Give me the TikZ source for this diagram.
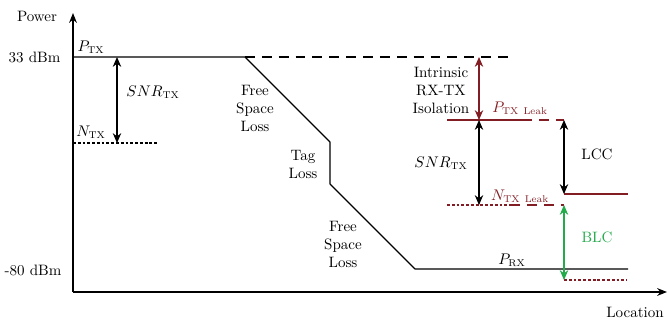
\documentclass[tikz,border=0pt]{standalone}
\usetikzlibrary{arrows.meta, positioning, calc}
\definecolor{leakcolor}{RGB}{130,30,35}
\definecolor{blccolor}{RGB}{35,170,75}
\tikzset{
  axis/.style     = {-{Stealth[length=7pt, width=5.5pt]}, thick},
  level/.style    = {thick, line join=round},
  projected/.style= {thick, dash pattern=on 7pt off 5pt},
  noise/.style    = {thick, dash pattern=on 2pt off 1.4pt},
  dimarrow/.style = {{Stealth[length=7pt, width=6pt]}-{Stealth[length=7pt, width=6pt]}, thick},
  lbl/.style      = {font=\fontsize{10.7}{12.8}\selectfont, align=center, inner sep=1pt},
}

\begin{document}
\begin{tikzpicture}[x=0.025cm, y=-0.025cm]
  \useasboundingbox (0,0) rectangle (667,325);
  % axes
  \coordinate (O) at (73,292);
  \coordinate (ytop) at (73,13);
  \coordinate (xend) at (667,292);
  \draw[axis] (O) -- (ytop);
  \draw[axis] (O) -- (xend);
  \node[lbl] (power) at (37,16) {Power};
  \node[lbl] (location) at (635,312) {Location};
  \node[lbl, anchor=east] (hi) at (62,57) {33 dBm};
  \node[lbl, anchor=east] (lo) at (63,270) {-80 dBm};

  % signal level along the path
  \foreach \n/\x/\y in {ptx0/73/57, ptx1/245/57, ptxd/512/57, ntx0/73/143, ntx1/158/143,
                        fs1/330/142, tag/330/184, prx0/415/269, prx1/628/269} {
    \coordinate (\n) at (\x,\y);
  }
  \draw[level] (ptx0) -- (ptx1) -- (fs1) -- (tag) -- (prx0) -- (prx1);
  \draw[projected] (ptx1) -- (ptxd);
  \draw[noise] (ntx0) -- (ntx1);

  % leakage levels
  \foreach \n/\x/\y in {ltx0/447/120, ltx1/522/120, ltx2/564/120,
                        lnx0/447/205, lnx1/510/205, lnx2/564/205,
                        lcc0/564/194, lcc1/628/194, blc0/564/280, blc1/627/280} {
    \coordinate (\n) at (\x,\y);
  }
  \draw[level, leakcolor] (ltx0) -- (ltx1);
  \draw[projected, leakcolor] (ltx1) -- (ltx2);
  \draw[noise, leakcolor] (lnx0) -- (lnx1);
  \draw[projected, leakcolor] (lnx1) -- (lnx2);
  \draw[level, leakcolor] (lcc0) -- (lcc1);
  \draw[noise, leakcolor] (blc0) -- (blc1);

  % dimension arrows
  \coordinate (snrtop) at (117,57);
  \coordinate (snrbot) at (117,143);
  \coordinate (isotop) at (479,57);
  \coordinate (isobot) at (479,120);
  \coordinate (snr2bot) at (479,205);
  \draw[dimarrow] (snrtop) -- (snrbot);
  \draw[dimarrow, leakcolor] (isotop) -- (isobot);
  \draw[dimarrow] (isobot) -- (snr2bot);
  \draw[dimarrow] (ltx2) -- (lcc0);
  \draw[dimarrow, blccolor] (lnx2) -- (blc0);

  % labels
  \node[lbl] (ptxlbl) at (91,47) {$P_{\mathrm{TX}}$};
  \node[lbl] (ntxlbl) at (91,132) {$N_{\mathrm{TX}}$};
  \node[lbl] (snrlbl) at (153,92) {$SNR_{\mathrm{TX}}$};
  \node[lbl] (fsl1) at (255,108) {Free\\Space\\Loss};
  \node[lbl] (tagloss) at (303,164) {Tag\\Loss};
  \node[lbl] (fsl2) at (343,244) {Free\\Space\\Loss};
  \node[lbl] (prxlbl) at (512,260) {$P_{\mathrm{RX}}$};
  \node[lbl] (isolbl) at (441,90) {Intrinsic\\RX-TX\\Isolation};
  \node[lbl] (snr2lbl) at (441,163) {$SNR_{\mathrm{TX}}$};
  \node[lbl, leakcolor] (ptxleak) at (520,108) {$P_{\mathrm{TX\ Leak}}$};
  \node[lbl, leakcolor] (ntxleak) at (520,196) {$N_{\mathrm{TX\ Leak}}$};
  \node[lbl] (lcclbl) at (597,154) {LCC};
  \node[lbl, blccolor] (blclbl) at (597,237) {BLC};
\end{tikzpicture}
\end{document}
